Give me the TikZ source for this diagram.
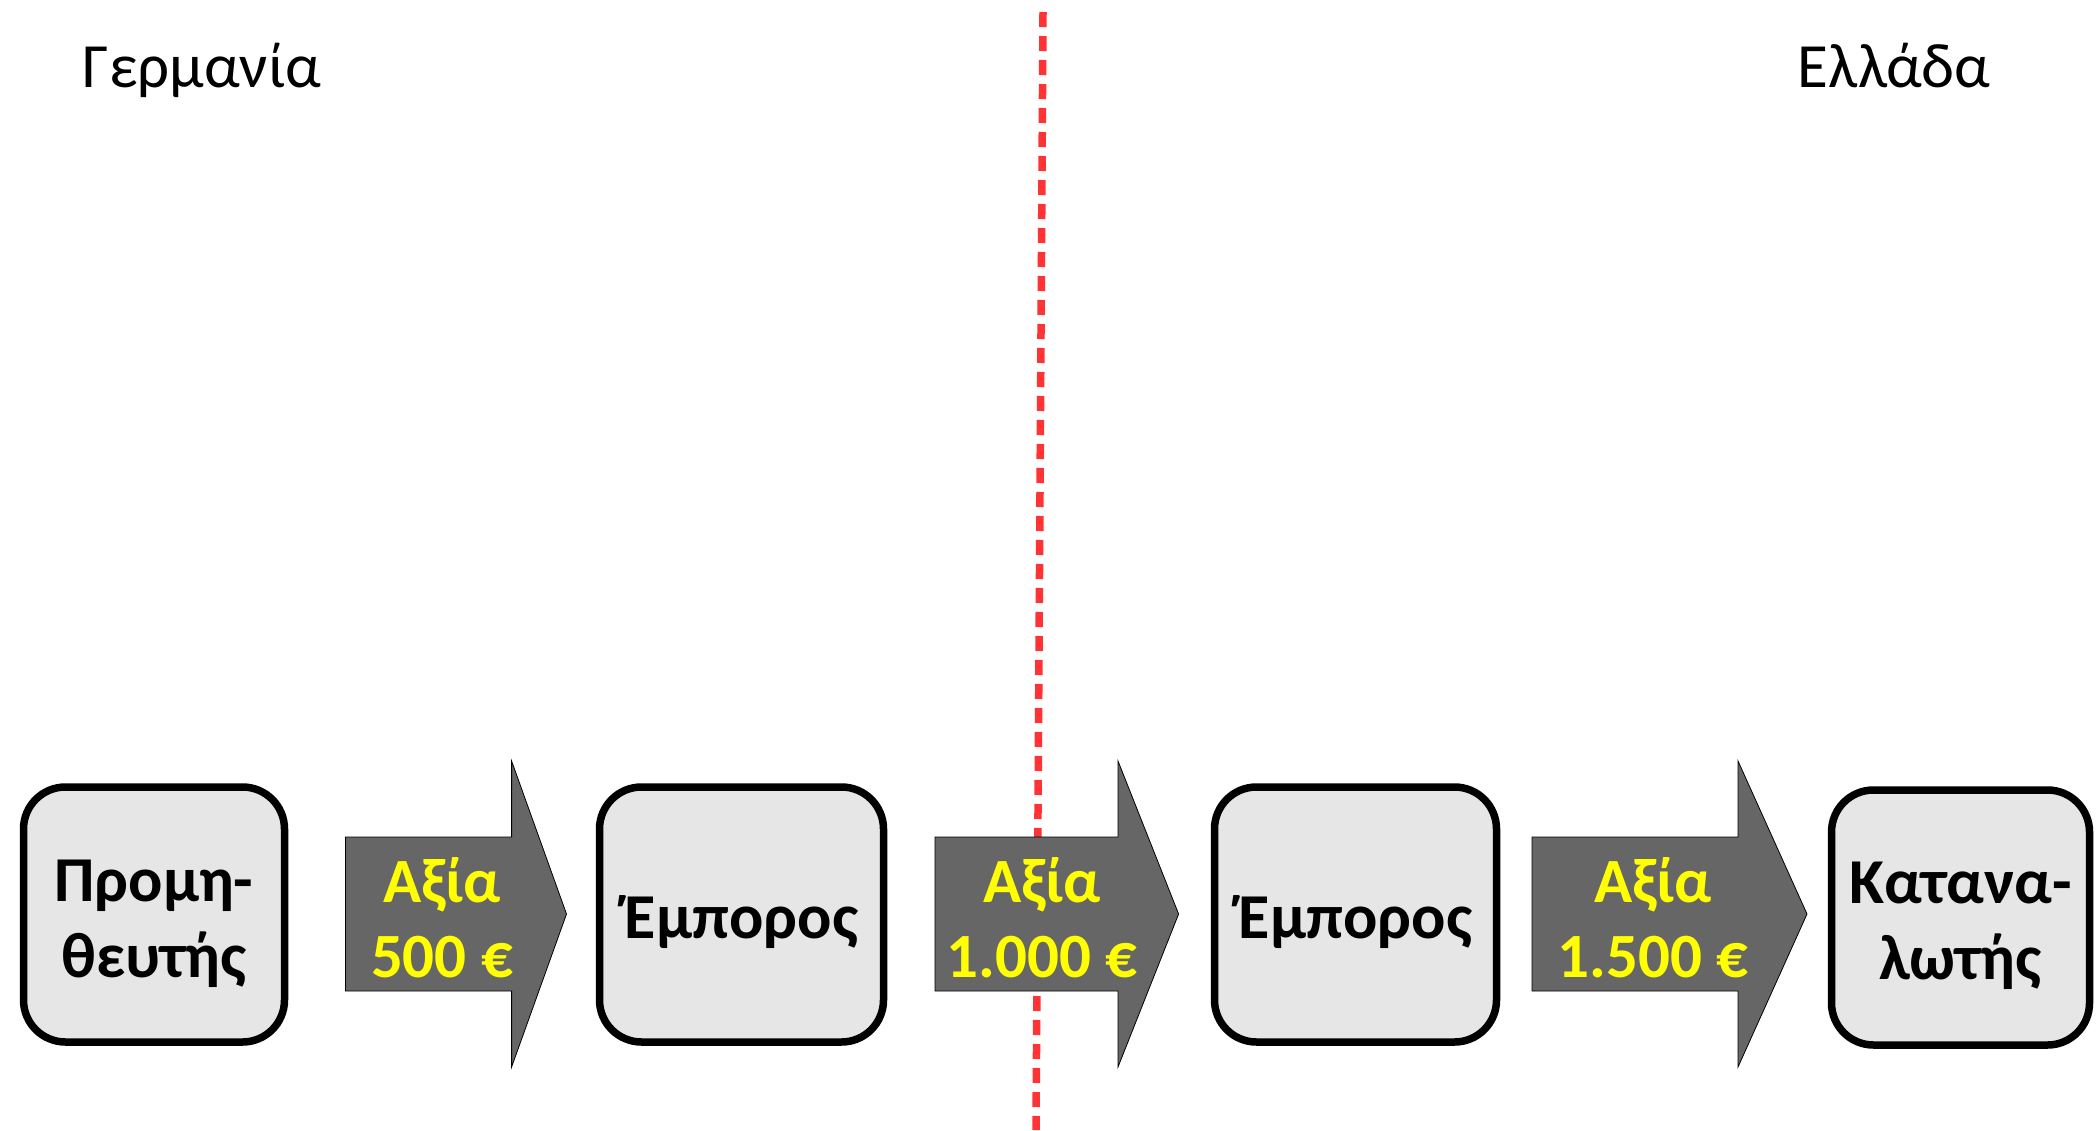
\documentclass[tikz,border=0pt]{standalone}
\usepackage{fontspec}
\setmainfont{Carlito}
\definecolor{boxgray}{HTML}{E6E6E6}
\definecolor{arrowgray}{HTML}{666666}
\definecolor{valyellow}{HTML}{FFFF00}
\definecolor{borderred}{HTML}{FF3333}
\begin{document}
\begin{tikzpicture}[x=1pt,y=-1pt,
  box/.style={draw=black, line width=7.5pt, fill=boxgray, rounded corners=42pt,
    minimum width=259pt, minimum height=255pt, inner sep=0pt},
  boxtext/.style={align=center, inner sep=0pt,
    font=\fontsize{64}{76}\selectfont\bfseries},
  bigarrow/.style={draw=black, line width=0.8pt, fill=arrowgray},
  valtext/.style={align=center, text=valyellow, inner sep=0pt,
    font=\fontsize{63}{75}\selectfont\bfseries},
  title/.style={anchor=base, inner sep=0pt, font=\fontsize{63}{76}\selectfont},
  redline/.style={draw=borderred, line width=7.5pt, dash pattern=on 15pt off 9pt}]
\useasboundingbox (0,0) rectangle (2100,1130);
% titles
\node[title] (de) at (202,87) {Γερμανία};
\node[title] (gr) at (1894,87) {Ελλάδα};
% border line
\coordinate (ltop) at (1043,12);
\coordinate (lbot) at (1036,1130);
\draw[redline] (ltop) -- (lbot);
% boxes
\node[box, minimum width=261pt] (b1) at (154,914.5) {};
\node[box, minimum width=284pt] (b2) at (741.5,914.5) {};
\node[box, minimum width=282pt] (b3) at (1355.5,914.5) {};
\node[box, minimum width=258pt] (b4) at (1960.5,917.5) {};
\node[boxtext] (t1) at (154,924) {Προμη-\\θευτής};
\node[boxtext] (t2) at (741.5,922) {Έμπορος};
\node[boxtext] (t3) at (1355.5,922) {Έμπορος};
\node[boxtext] (t4) at (1960.5,926) {Κατανα-\\λωτής};
% arrows
\draw[bigarrow] (345.5,837) -- (511.6,837) -- (511.6,761) -- (566.5,914) -- (511.6,1067) -- (511.6,991) -- (345.5,991) -- cycle;
\draw[bigarrow] (935,837) -- (1118,837) -- (1118,761) -- (1178.6,914) -- (1118,1067) -- (1118,991) -- (935,991) -- cycle;
\draw[bigarrow] (1532,837) -- (1738,837) -- (1738,761) -- (1807,914) -- (1738,1067) -- (1738,991) -- (1532,991) -- cycle;
\node[valtext] (v1) at (442,918) {Αξία\\500 €};
\node[valtext] (v2) at (1042,918) {Αξία\\1.000 €};
\node[valtext] (v3) at (1653,918) {Αξία\\1.500 €};
\end{tikzpicture}
\end{document}
